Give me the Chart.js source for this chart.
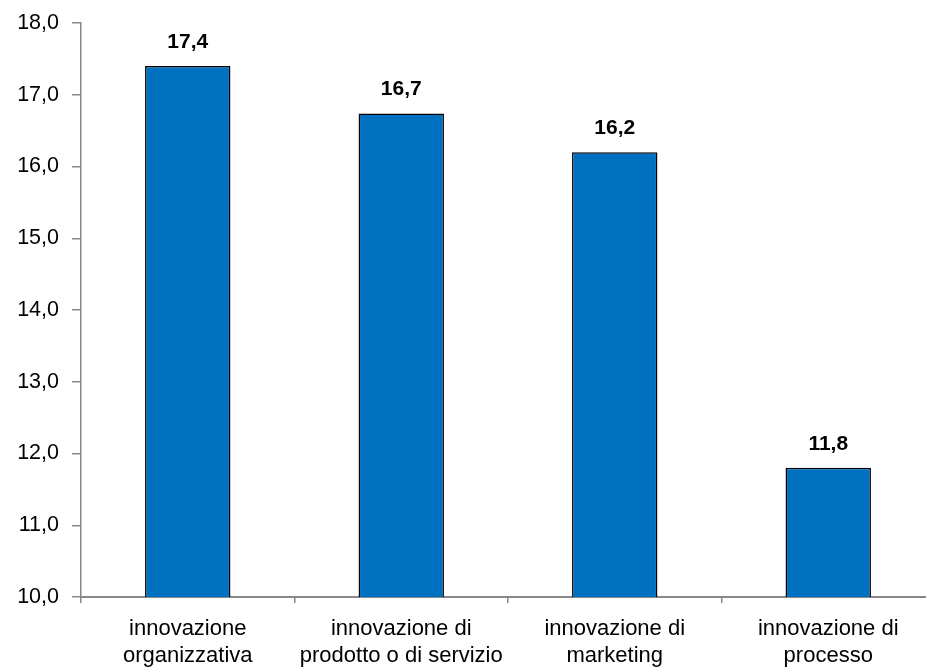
<!DOCTYPE html>
<html>
<head>
<meta charset="utf-8">
<script src="https://cdn.jsdelivr.net/npm/chart.js"></script>
<style>
  html, body { margin: 0; padding: 0; background: #fff; overflow: hidden; }
  #wrap { width: 940px; height: 672px; }
</style>
</head>
<body>
<div id="wrap"><canvas id="chart"></canvas></div>
<script>
// categorie e valori (%)
const categories = [
    ['innovazione', 'organizzativa'],
    ['innovazione di', 'prodotto o di servizio'],
    ['innovazione di', 'marketing'],
    ['innovazione di', 'processo']
];
const values = [17.4, 16.74, 16.2, 11.8];
const yTicks = [10, 11, 12, 13, 14, 15, 16, 17, 18];

const fmt = v => v.toFixed(1).replace('.', ',');
const FONT = '"Liberation Sans", Arial, sans-serif';

// etichette sopra le barre
const barLabels = {
    id: 'barLabels',
    afterDatasetsDraw(chart) {
        const ctx = chart.ctx;
        const meta = chart.getDatasetMeta(0);
        ctx.save();
        ctx.font = 'bold 21px ' + FONT;
        ctx.fillStyle = '#000';
        ctx.textAlign = 'center';
        ctx.textBaseline = 'alphabetic';
        meta.data.forEach((bar, i) => {
            ctx.fillText(fmt(values[i]), bar.x, bar.y - 18);
        });
        ctx.restore();
    }
};

new Chart(document.getElementById('chart'), {
    type: 'bar',
    data: {
        labels: categories,
        datasets: [{
            data: values,
            backgroundColor: '#0070C0',
            borderColor: '#000',
            borderWidth: 1.5,
            barPercentage: 0.4,
            categoryPercentage: 1
        }]
    },
    options: {
        responsive: true,
        maintainAspectRatio: false,
        animation: false,
        layout: { padding: { top: 23, right: 5, left: 0, bottom: 0 } },
        plugins: {
            legend: { display: false },
            tooltip: { enabled: false }
        },
        scales: {
            x: {
                offset: true,
                grid: {
                    offset: true,
                    drawOnChartArea: false,
                    drawTicks: true,
                    tickLength: 6,
                    color: '#888',
                    lineWidth: 1.5
                },
                border: { color: '#888', width: 2 },
                ticks: {
                    color: '#000',
                    padding: 13,
                    maxRotation: 0,
                    autoSkip: false,
                    font: { family: FONT, size: 22, lineHeight: 1.2 }
                },
                afterFit(scale) { scale.height = 75; }
            },
            y: {
                min: 10,
                max: 18,
                afterBuildTicks(scale) { scale.ticks = yTicks.map(v => ({ value: v })); },
                grid: {
                    drawOnChartArea: false,
                    tickLength: 9,
                    color: '#888',
                    lineWidth: 1.5
                },
                border: { color: '#888', width: 1.5 },
                ticks: {
                    color: '#000',
                    padding: 13,
                    callback: v => fmt(v),
                    font: { family: FONT, size: 21.5, lineHeight: 0.6 }
                },
                afterFit(scale) { scale.width = 81; }
            }
        }
    },
    plugins: [barLabels]
});
</script>
</body>
</html>
